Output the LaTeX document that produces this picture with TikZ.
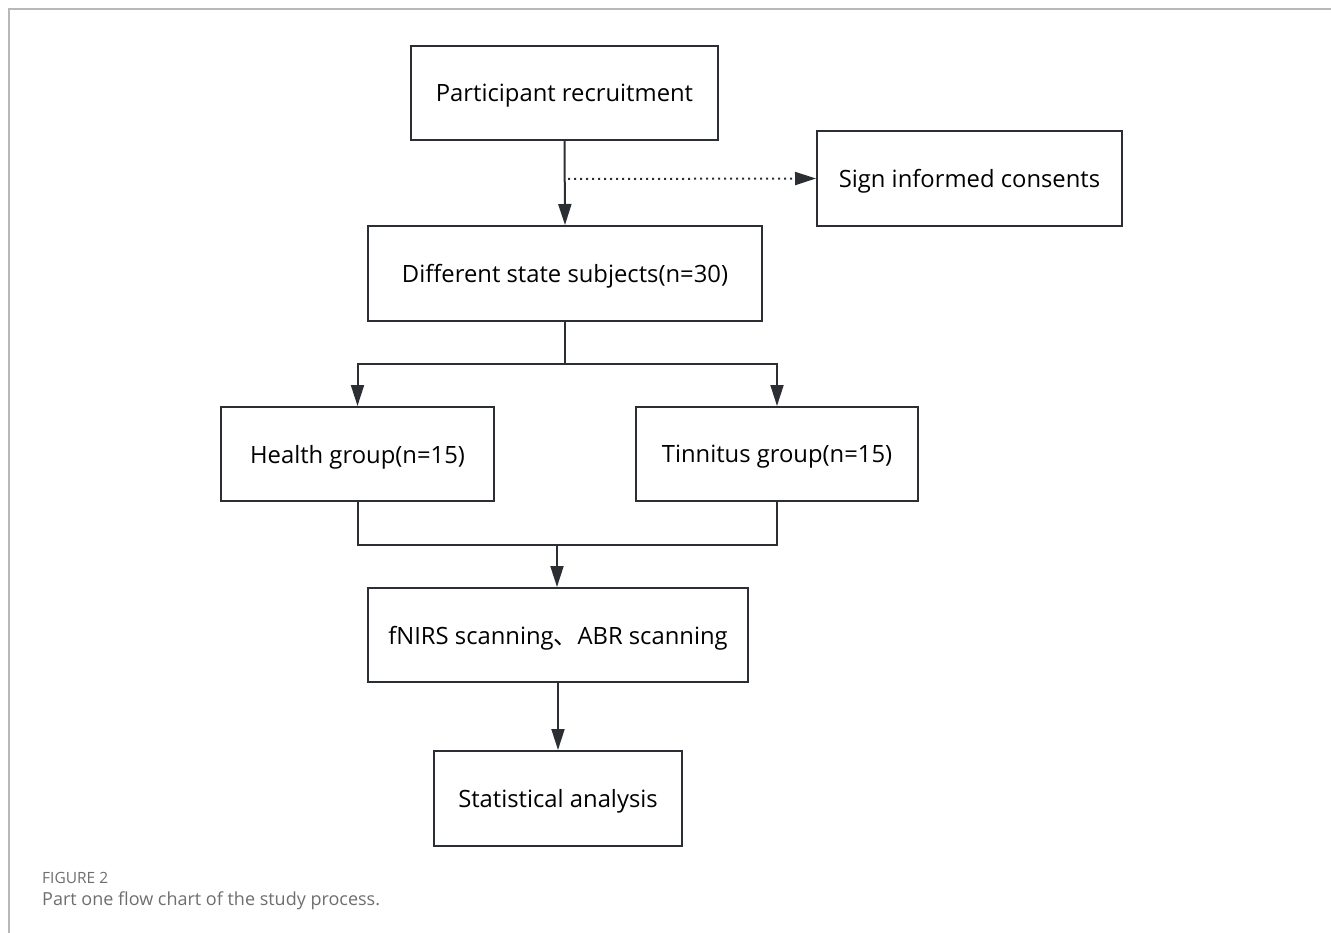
\documentclass[tikz,border=0pt]{standalone}
\usepackage{fontspec}
\setmainfont{Open Sans}
\newfontfamily\cjk{Noto Sans CJK SC}
\usepackage{xcolor}
\usetikzlibrary{arrows.meta,positioning}

\definecolor{boxline}{HTML}{2B2F33}
\definecolor{capgray}{HTML}{6E6E6E}
\tikzset{
  flowbox/.style={draw=boxline, line width=2pt, font=\fontsize{23.8}{28}\selectfont,
    inner sep=0pt, anchor=center, text depth=0pt},
  link/.style={draw=boxline, line width=2pt},
  arr/.style={link, -{Triangle[length=21pt,width=13pt]}},
}

\begin{document}
\begin{tikzpicture}[x=1pt,y=-1pt]
  \useasboundingbox (0,0) rectangle (1331,933);
  % frame
  \draw[black!28, line width=1.5pt] (9,933) -- (9,9) -- (1331,9);

  \node[flowbox, minimum width=307pt, minimum height=94pt] (recruit) at (564.5,93) {Participant recruitment};
  \node[flowbox, minimum width=305pt, minimum height=95pt] (consent) at (969.5,178.5) {Sign informed consents};
  \node[flowbox, minimum width=394pt, minimum height=95pt] (subjects) at (565,273.5) {Different state subjects(n=30)};
  \node[flowbox, minimum width=273pt, minimum height=94pt] (health) at (357.5,454) {Health group(n=15)};
  \node[flowbox, minimum width=282pt, minimum height=94pt] (tinnitus) at (777,454) {Tinnitus group(n=15)};
  \node[flowbox, minimum width=380pt, minimum height=94pt] (scan) at (558,635) {fNIRS scanning{\cjk 、}ABR scanning};
  \node[flowbox, minimum width=248pt, minimum height=95pt] (stats) at (558,798.5) {Statistical analysis};

  \coordinate (split) at (565,364);
  \coordinate (merge) at (557,545);
  \coordinate (tap) at (568,179);

  \draw[arr] (recruit.south) -- (subjects.north);
  \draw[arr, dash pattern=on 2pt off 4pt] (tap) -- (consent.west);

  \draw[link] (subjects.south) -- (split);
  \draw[arr] (split) -| (health.north);
  \draw[arr] (split) -| (tinnitus.north);

  \draw[link] (health.south) |- (merge) -| (tinnitus.south);
  \draw[arr] (merge) -- (merge |- scan.north);
  \draw[arr] (scan.south) -- (stats.north);

  % caption
  \node[anchor=west, inner sep=0pt, text=capgray, font=\fontsize{15.5}{18}\selectfont] (figlabel) at (42,878) {FIGURE 2};
  \node[anchor=west, inner sep=0pt, text=capgray, font=\fontsize{18}{22}\selectfont] (caption) at (42,901) {Part one flow chart of the study process.};
\end{tikzpicture}
\end{document}
